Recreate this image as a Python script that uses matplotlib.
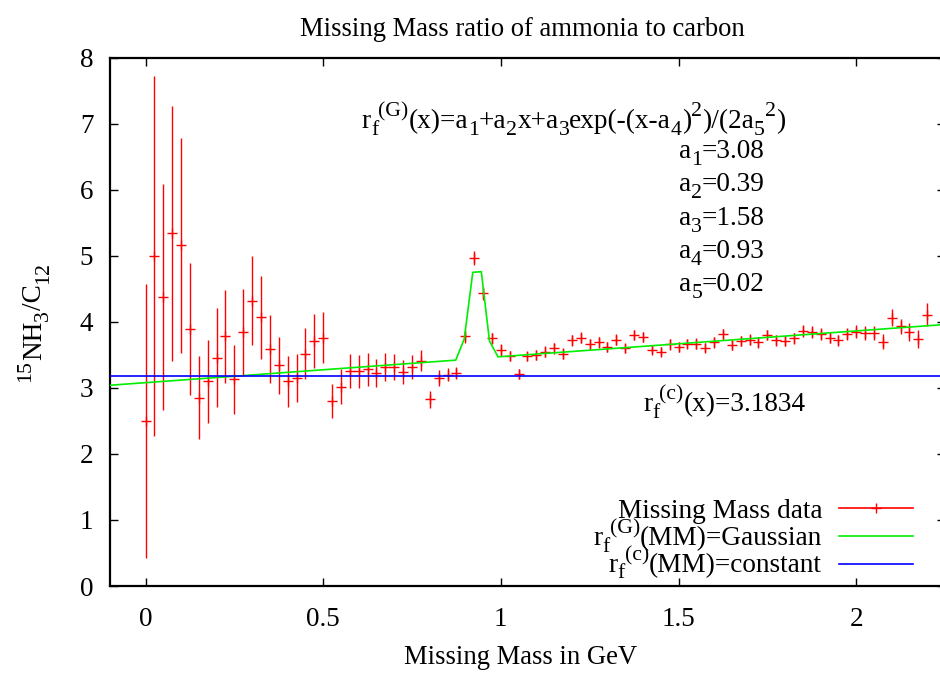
import math
import matplotlib
matplotlib.use("Agg")
import matplotlib.pyplot as plt
from matplotlib.transforms import ScaledTranslation

plt.rcParams['font.family'] = ['Liberation Serif', 'DejaVu Serif']

# ---------------- data ----------------
mass = [0.000, 0.025, 0.050, 0.075, 0.100, 0.125, 0.150, 0.175, 0.200, 0.225,
        0.250, 0.275, 0.300, 0.325, 0.350, 0.375, 0.400, 0.425, 0.450, 0.475,
        0.500, 0.525, 0.550, 0.575, 0.600, 0.625, 0.650, 0.675, 0.700, 0.725,
        0.750, 0.775, 0.800, 0.825, 0.850, 0.875, 0.900, 0.925, 0.950, 0.975,
        1.000, 1.025, 1.050, 1.075, 1.100, 1.125, 1.150, 1.175, 1.200, 1.225,
        1.250, 1.275, 1.300, 1.325, 1.350, 1.375, 1.400, 1.425, 1.450, 1.475,
        1.500, 1.525, 1.550, 1.575, 1.600, 1.625, 1.650, 1.675, 1.700, 1.725,
        1.750, 1.775, 1.800, 1.825, 1.850, 1.875, 1.900, 1.925, 1.950, 1.975,
        2.000, 2.025, 2.050, 2.075, 2.100, 2.125, 2.150, 2.175, 2.200]

ratio = [2.50, 5.00, 4.37, 5.34, 5.16, 3.89, 2.85, 3.10, 3.46, 3.78,
         3.13, 3.84, 4.32, 4.07, 3.59, 3.34, 3.10, 3.15, 3.52, 3.71,
         3.76, 2.80, 3.02, 3.26, 3.25, 3.28, 3.23, 3.32, 3.32, 3.24,
         3.32, 3.41, 2.83, 3.15, 3.20, 3.22, 3.78, 4.97, 4.43, 3.75,
         3.58, 3.48, 3.21, 3.48, 3.50, 3.55, 3.60, 3.52, 3.72, 3.76,
         3.66, 3.69, 3.62, 3.73, 3.60, 3.80, 3.77, 3.58, 3.55, 3.66,
         3.62, 3.67, 3.67, 3.61, 3.69, 3.81, 3.65, 3.71, 3.73, 3.69,
         3.80, 3.72, 3.71, 3.75, 3.86, 3.84, 3.81, 3.76, 3.72, 3.82,
         3.85, 3.83, 3.83, 3.70, 4.06, 3.93, 3.85, 3.74, 4.11]

ratio_err = [2.08, 2.73, 1.71, 1.93, 1.63, 1.00, 0.63, 0.63, 0.75, 0.70,
             0.52, 0.65, 0.67, 0.63, 0.51, 0.43, 0.39, 0.37, 0.39, 0.41,
             0.39, 0.26, 0.26, 0.26, 0.25, 0.25, 0.21, 0.21, 0.20, 0.18,
             0.18, 0.16, 0.13, 0.12, 0.10, 0.09, 0.10, 0.11, 0.10, 0.08,
             0.09, 0.08, 0.07, 0.07, 0.08, 0.08, 0.08, 0.08, 0.08, 0.08,
             0.08, 0.08, 0.07, 0.08, 0.07, 0.07, 0.07, 0.07, 0.07, 0.08,
             0.07, 0.07, 0.08, 0.07, 0.08, 0.08, 0.08, 0.08, 0.08, 0.08,
             0.08, 0.08, 0.08, 0.08, 0.09, 0.09, 0.09, 0.08, 0.08, 0.09,
             0.10, 0.10, 0.11, 0.11, 0.13, 0.12, 0.14, 0.14, 0.18]

# sampled Gaussian fit curve (knots as drawn)
fit_x = [-0.1, 0.873, 0.897, 0.921, 0.945, 0.968, 0.992, 2.25]
fit_y = [3.04, 3.42, 3.74, 4.75, 4.76, 3.71, 3.47, 3.96]

# constant fit
const_x = [-0.1, 2.25]
const_y = [3.1834, 3.1834]

x_ticks = [0, 0.5, 1, 1.5, 2]
x_tick_labels = ['0', '0.5', '1', '1.5', '2']
y_ticks = [0, 1, 2, 3, 4, 5, 6, 7, 8]

param_names = ['1', '2', '3', '4', '5']
param_values = ['3.08', '0.39', '1.58', '0.93', '0.02']

# ---------------- figure ----------------
W, H = 940, 673
DPI = 100
fig = plt.figure(figsize=(W / DPI, H / DPI), dpi=DPI)
ax_l, ax_r, ax_b, ax_t = 110, 945, 586, 57.7
ax = fig.add_axes([ax_l / W, (H - ax_b) / H, (ax_r - ax_l) / W, (ax_b - ax_t) / H])
ax.set_xlim(-0.1, 2.25)
ax.set_ylim(0, 8)

FS = 19.6
red, green, blue = '#ff0000', '#00ee00', '#0000ff'

ax.errorbar(mass, ratio, yerr=ratio_err, fmt='+', color=red, ecolor=red,
            elinewidth=1.0, capsize=0, markersize=7, markeredgewidth=1.0,
            zorder=2, clip_on=False)
ax.plot(fit_x, fit_y, color=green, lw=1.2, zorder=3)
ax.plot(const_x, const_y, color=blue, lw=1.2, zorder=4)

ax.set_xticks(x_ticks)
ax.set_xticklabels(x_tick_labels)
ax.set_yticks(y_ticks)
ax.tick_params(direction='in', length=6, width=1.0, top=True, right=True,
               labelsize=19.5, colors='black')
ax.tick_params(axis='x', pad=15)
ax.tick_params(axis='y', pad=12)
for sp in ax.spines.values():
    sp.set_linewidth(1.6)

# ------------- gnuplot-like enhanced text -------------
renderer = fig.canvas.get_renderer()
SCALE, SUP_RAISE, SUB_DROP = 0.8, 0.42, 0.25


def _ink(s, size):
    t = fig.text(0, 0, s, fontsize=size)
    w = t.get_window_extent(renderer).width
    t.remove()
    return w


def adv(s, size):
    return _ink(s + 'I', size) - _ink('I', size)


def etext(x, y, parts, transform, ha='left', rotation=0, fs=FS):
    em = fs * DPI / 72.0
    sub_fs = fs * SCALE
    layout = []
    cur = 0.0
    for kind, s in parts:
        if kind == 'n':
            layout.append((s, fs, cur, 0.0))
            cur += adv(s, fs)
        elif kind == 'sub':
            layout.append((s, sub_fs, cur, -SUB_DROP * em))
            cur += adv(s, sub_fs)
        elif kind == 'sup':
            layout.append((s, sub_fs, cur, SUP_RAISE * em))
            cur += adv(s, sub_fs)
    shift = {'left': 0.0, 'center': -cur / 2.0, 'right': -cur}[ha]
    th = math.radians(rotation)
    for s, size, dx, dy in layout:
        a = dx + shift
        px = a * math.cos(th) - dy * math.sin(th)
        py = a * math.sin(th) + dy * math.cos(th)
        tr = transform + ScaledTranslation(px / DPI, py / DPI, fig.dpi_scale_trans)
        fig.text(x, y, s, transform=tr, fontsize=size, ha='left', va='baseline',
                 rotation=rotation, rotation_mode='anchor')


# annotations
etext(1.80, 6.94,
      [('n', 'r'), ('sub', 'f'), ('sup', '(G)'), ('n', '(x)=a'), ('sub', '1'),
       ('n', '+a'), ('sub', '2'), ('n', 'x+a'), ('sub', '3'),
       ('n', 'exp(-(x-a'), ('sub', '4'), ('n', ')'), ('sup', '2'),
       ('n', ')/(2a'), ('sub', '5'), ('sup', '2'), ('n', ')')],
      ax.transData, ha='right')

param_y = [6.48, 5.98, 5.47, 4.97, 4.47]
for nm, val, yy in zip(param_names, param_values, param_y):
    etext(1.743, yy, [('n', 'a'), ('sub', nm), ('n', '=' + val)],
          ax.transData, ha='right')

etext(1.40, 2.65, [('n', 'r'), ('sub', 'f'), ('sup', '(c)'), ('n', '(x)=3.1834')],
      ax.transData, ha='left')

# legend (gnuplot style)
leg_text_x = 0.8527
leg_line = (0.873, 0.9617)
rows = [
    ([('n', 'Missing Mass data')], 0.1293, 0.1476, red),
    ([('n', 'r'), ('sub', 'f'), ('sup', '(G)'), ('n', '(MM)=Gaussian')], 0.0776, 0.0946, green),
    ([('n', 'r'), ('sub', 'f'), ('sup', '(c)'), ('n', '(MM)=constant')], 0.0271, 0.0422, blue),
]
for parts, ty, ly, col in rows:
    etext(leg_text_x, ty, parts, ax.transAxes, ha='right')
    ax.plot(leg_line, [ly, ly], color=col, lw=1.2, transform=ax.transAxes,
            clip_on=False)
ax.plot([(leg_line[0] + leg_line[1]) / 2], [rows[0][2]], '+', color=red,
        markersize=7, markeredgewidth=1.0, transform=ax.transAxes, clip_on=False)

# titles
fig.text(522 / W, 1 - 36 / H, 'Missing Mass ratio of ammonia to carbon',
         ha='center', va='baseline', fontsize=19.2)
fig.text(521 / W, 1 - 664 / H, 'Missing Mass in GeV',
         ha='center', va='baseline', fontsize=19.2)
etext(41 / W, 1 - 322 / H,
      [('sup', '15'), ('n', 'NH'), ('sub', '3'), ('n', '/C'), ('sub', '12')],
      fig.transFigure, ha='center', rotation=90)

fig.savefig('out.png', dpi=DPI)
